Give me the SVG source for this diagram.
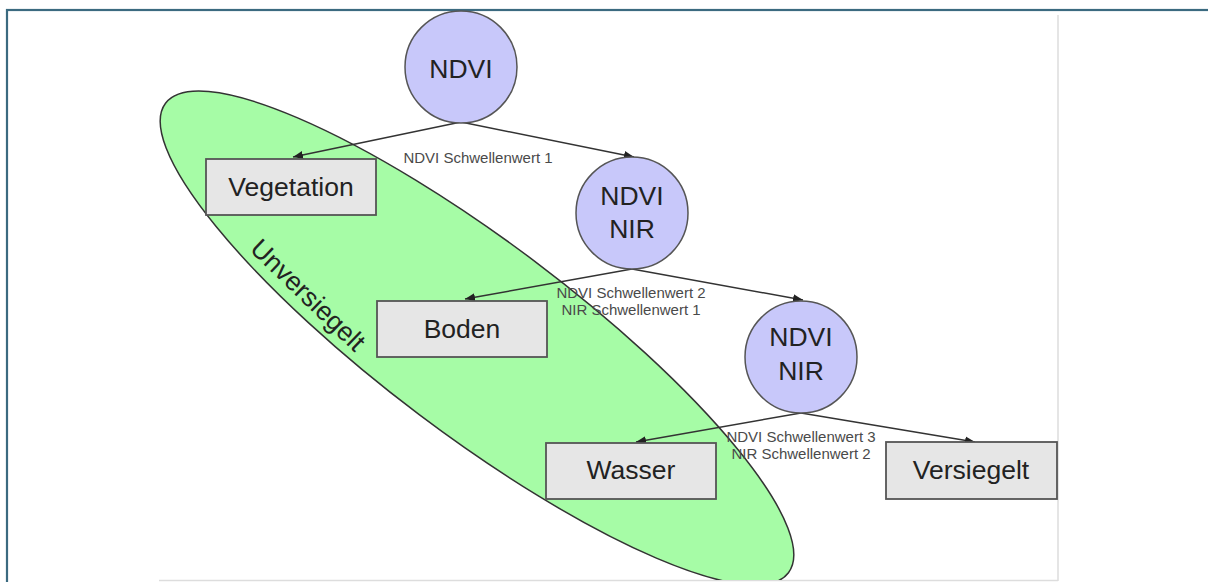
<svg xmlns="http://www.w3.org/2000/svg" width="1208" height="582" viewBox="0 0 1208 582">
<style>
.circ{fill:#c8c8fa;stroke:#555;stroke-width:1.5}
.box{fill:#e6e6e6;stroke:#555;stroke-width:1.8}
.lbl{font-family:"Liberation Sans",Arial,sans-serif;font-size:26.5px;fill:#222;text-anchor:middle}
.edge{font-family:"Liberation Sans",Arial,sans-serif;font-size:15px;fill:#4a4a4a;text-anchor:middle}
.con{stroke:#333;stroke-width:1.5;fill:none;marker-end:url(#ah)}
</style>
<defs>
<marker id="ah" viewBox="0 0 10 10" refX="10" refY="5" markerWidth="10" markerHeight="10" markerUnits="userSpaceOnUse" orient="auto">
<path d="M0,1 L10,5 L0,9 Z" fill="#222"/>
</marker>
<clipPath id="img"><rect x="159" y="12" width="899" height="568"/></clipPath>
</defs>
<rect x="0" y="0" width="1208" height="582" fill="#fff"/>
<rect x="7" y="10" width="1210" height="590" fill="none" stroke="#3b6a80" stroke-width="2.2"/>
<line x1="1058" y1="15" x2="1058" y2="581" stroke="#ddd" stroke-width="1.5"/>
<line x1="159" y1="580.5" x2="1058" y2="580.5" stroke="#ddd" stroke-width="1.5"/>

<g id="unversiegelt">
<g clip-path="url(#img)">
<ellipse cx="0" cy="0" rx="390" ry="96" transform="translate(477,338) rotate(37)" fill="#a6fca6" stroke="#333" stroke-width="1.5"/>
</g>
<text class="lbl" transform="translate(308,295) rotate(44)" y="9">Unversiegelt</text>
</g>

<g id="connectors">
<line class="con" x1="461" y1="122" x2="293" y2="157"/>
<line class="con" x1="461" y1="122" x2="634" y2="157"/>
<line class="con" x1="632" y1="269" x2="465" y2="299"/>
<line class="con" x1="632" y1="269" x2="803" y2="300"/>
<line class="con" x1="801" y1="413" x2="636" y2="442"/>
<line class="con" x1="801" y1="413" x2="975" y2="442"/>
<text class="edge" x="478" y="163">NDVI Schwellenwert 1</text>
<text class="edge" x="631" y="298">NDVI Schwellenwert 2</text>
<text class="edge" x="631" y="315">NIR Schwellenwert 1</text>
<text class="edge" x="801" y="442">NDVI Schwellenwert 3</text>
<text class="edge" x="801" y="459">NIR Schwellenwert 2</text>
</g>

<g id="ndvi">
<circle class="circ" cx="461" cy="67" r="56"/>
<text class="lbl" x="461" y="78">NDVI</text>
</g>
<g id="ndvi-nir-1">
<circle class="circ" cx="632" cy="213" r="56"/>
<text class="lbl" x="632" y="205">NDVI</text>
<text class="lbl" x="632" y="238">NIR</text>
</g>
<g id="ndvi-nir-2">
<circle class="circ" cx="801" cy="357" r="56"/>
<text class="lbl" x="801" y="346">NDVI</text>
<text class="lbl" x="801" y="380">NIR</text>
</g>
<g id="vegetation">
<rect class="box" x="206" y="159" width="170" height="56"/>
<text class="lbl" x="291" y="196">Vegetation</text>
</g>
<g id="boden">
<rect class="box" x="377" y="301" width="170" height="56"/>
<text class="lbl" x="462" y="338">Boden</text>
</g>
<g id="wasser">
<rect class="box" x="546" y="443" width="170" height="56"/>
<text class="lbl" x="631" y="479">Wasser</text>
</g>
<g id="versiegelt">
<rect class="box" x="886" y="442" width="171" height="57"/>
<text class="lbl" x="971" y="479">Versiegelt</text>
</g>
</svg>
